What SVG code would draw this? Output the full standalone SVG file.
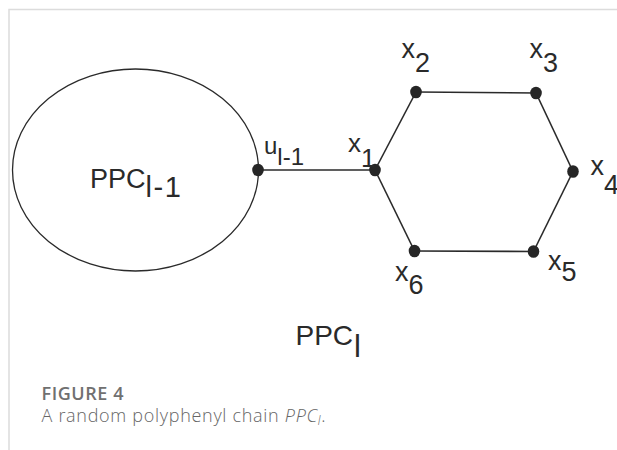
<svg xmlns="http://www.w3.org/2000/svg" width="617" height="450" viewBox="0 0 617 450">
  <style>
    .frame { stroke: #dcdcdc; stroke-width: 1.5; fill: none; }
    .edge { stroke: #2a2a2a; stroke-width: 1.6; fill: none; }
    .blob { stroke: #2a2a2a; stroke-width: 1.3; fill: none; }
    .dot { fill: #262626; }
    .lbl { font-family: "Liberation Sans", Arial, sans-serif; fill: #2a2a2a; }
    .cap-title { font-family: "Open Sans", "Noto Sans", sans-serif; font-weight: 600; font-size: 18px; fill: #707070; }
    .cap-text { font-family: "Open Sans", "Noto Sans", sans-serif; font-weight: 300; font-size: 18px; fill: #666666; }
  </style>
  <rect width="617" height="450" fill="#ffffff"/>
  <!-- panel border -->
  <path class="frame" d="M9,450 V9.5 H617"/>

  <!-- connectors -->
  <g id="edges">
    <line class="edge" x1="258" y1="170" x2="375" y2="170"/>
    <line class="edge" x1="375" y1="170" x2="416" y2="92"/>
    <line class="edge" x1="416" y1="92" x2="536" y2="93"/>
    <line class="edge" x1="536" y1="93" x2="573" y2="171.5"/>
    <line class="edge" x1="573" y1="171.5" x2="533.5" y2="251.5"/>
    <line class="edge" x1="533.5" y1="251.5" x2="414.5" y2="251"/>
    <line class="edge" x1="414.5" y1="251" x2="375" y2="170"/>
  </g>

  <!-- previous chain PPC_{l-1} -->
  <g id="ppc-prev">
    <ellipse class="blob" cx="135.5" cy="170" rx="123" ry="101"/>
    <text class="lbl" x="90" y="187.5" font-size="27">PPC<tspan font-size="29" dy="9.5" letter-spacing="1.5">l-1</tspan></text>
  </g>

  <g id="u">
    <ellipse class="dot" cx="258" cy="170" rx="5.8" ry="6.3"/>
    <text class="lbl" x="264" y="153.5" font-size="24">u<tspan dy="11.5">l-1</tspan></text>
  </g>
  <g id="x1">
    <ellipse class="dot" cx="375" cy="170" rx="5.8" ry="6.3"/>
    <text class="lbl" x="348" y="152" font-size="26">x<tspan dy="14.5">1</tspan></text>
  </g>
  <g id="x2">
    <ellipse class="dot" cx="416" cy="92" rx="5.8" ry="6.3"/>
    <text class="lbl" x="401.5" y="57.5" font-size="27">x<tspan dy="14.5">2</tspan></text>
  </g>
  <g id="x3">
    <ellipse class="dot" cx="536" cy="93" rx="5.8" ry="6.3"/>
    <text class="lbl" x="529.5" y="57.5" font-size="27">x<tspan dy="14.5">3</tspan></text>
  </g>
  <g id="x4">
    <ellipse class="dot" cx="573" cy="171.5" rx="5.8" ry="6.3"/>
    <text class="lbl" x="590.5" y="175" font-size="27">x<tspan dy="18.5">4</tspan></text>
  </g>
  <g id="x5">
    <ellipse class="dot" cx="533.5" cy="251.5" rx="5.8" ry="6.3"/>
    <text class="lbl" x="548" y="269.5" font-size="27">x<tspan dy="11.5">5</tspan></text>
  </g>
  <g id="x6">
    <ellipse class="dot" cx="414.5" cy="251" rx="5.8" ry="6.3"/>
    <text class="lbl" x="395" y="281" font-size="27">x<tspan dy="12.5">6</tspan></text>
  </g>

  <!-- whole chain label -->
  <g id="ppc-label">
    <text class="lbl" x="295.5" y="345" font-size="28">PPC<tspan font-size="31" dy="12" dx="1">l</tspan></text>
  </g>

  <!-- caption -->
  <g id="caption">
    <text class="cap-title" x="41.5" y="399.5" textLength="82" lengthAdjust="spacing">FIGURE 4</text>
    <text class="cap-text" x="41.5" y="422" textLength="284" lengthAdjust="spacing">A random polyphenyl chain <tspan font-style="italic">PPC<tspan font-size="12" dy="3">l</tspan></tspan><tspan dy="-3">.</tspan></text>
  </g>
</svg>
